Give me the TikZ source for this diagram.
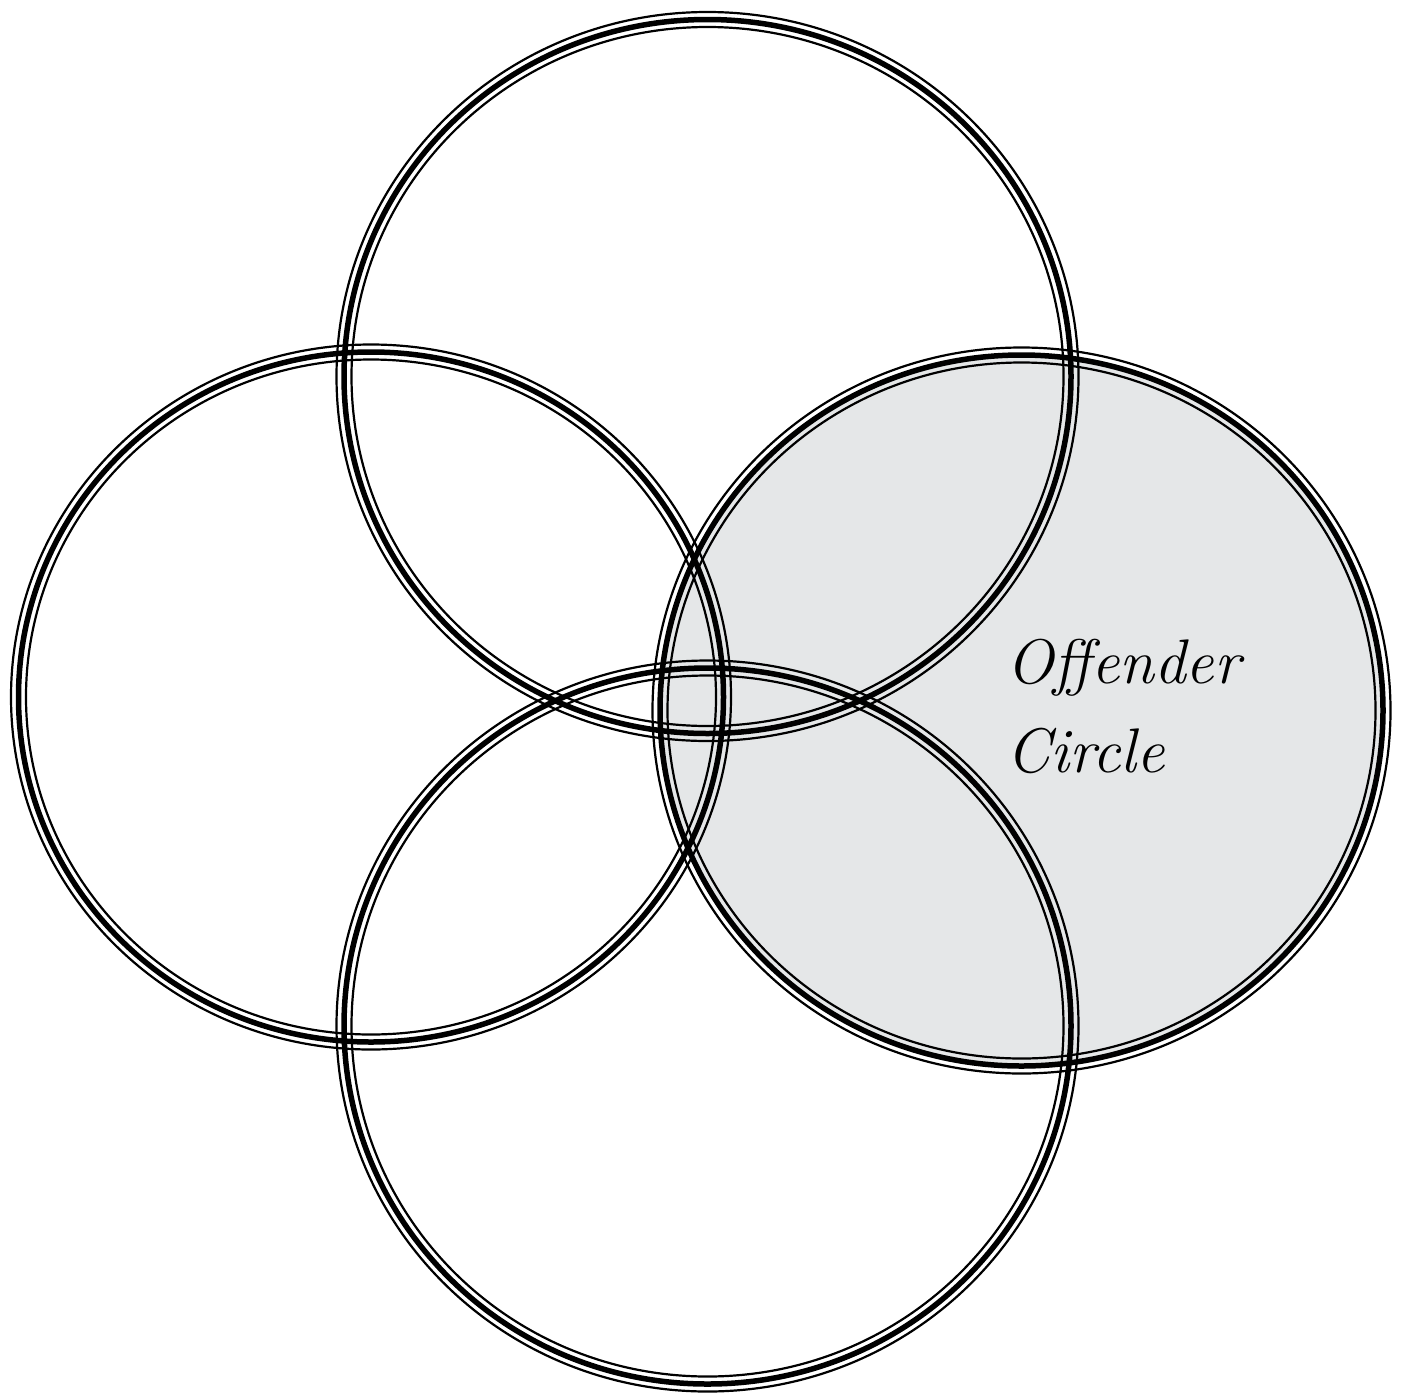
\documentclass[tikz,border=0pt]{standalone}
\definecolor{marble}{RGB}{229,231,232}
\tikzset{
  ringthin/.style={draw=black,line width=2.2pt},
  ringthick/.style={draw=black,line width=5.5pt},
  label/.style={font=\fontsize{63}{89}\selectfont\itshape,align=left,inner sep=0pt}
}
\newcommand\myring[4]{%
  \draw[ringthin] (#1,#2) ellipse [x radius=#3+7.5, y radius=#4+7.5];
  \draw[ringthick] (#1,#2) ellipse [x radius=#3, y radius=#4];
  \draw[ringthin] (#1,#2) ellipse [x radius=#3-7.5, y radius=#4-7.5];
}
\begin{document}
\begin{tikzpicture}[x=1pt,y=1pt]
\useasboundingbox (0,0) rectangle (1405,-1395);
% offender circle fill (marble)
\fill[marble] (1021.5,-710.5) ellipse [x radius=361.5, y radius=355.5];
% rings
\myring{707.5}{-376.5}{363.5}{357}
\myring{371}{-697}{352.5}{345}
\myring{707.5}{-1026}{363.5}{358}
\myring{1021.5}{-710.5}{361.5}{355.5}
\node[label,anchor=base west] (lbl) at (1006,-772) {Offender\\Circle};
\end{tikzpicture}
\end{document}
